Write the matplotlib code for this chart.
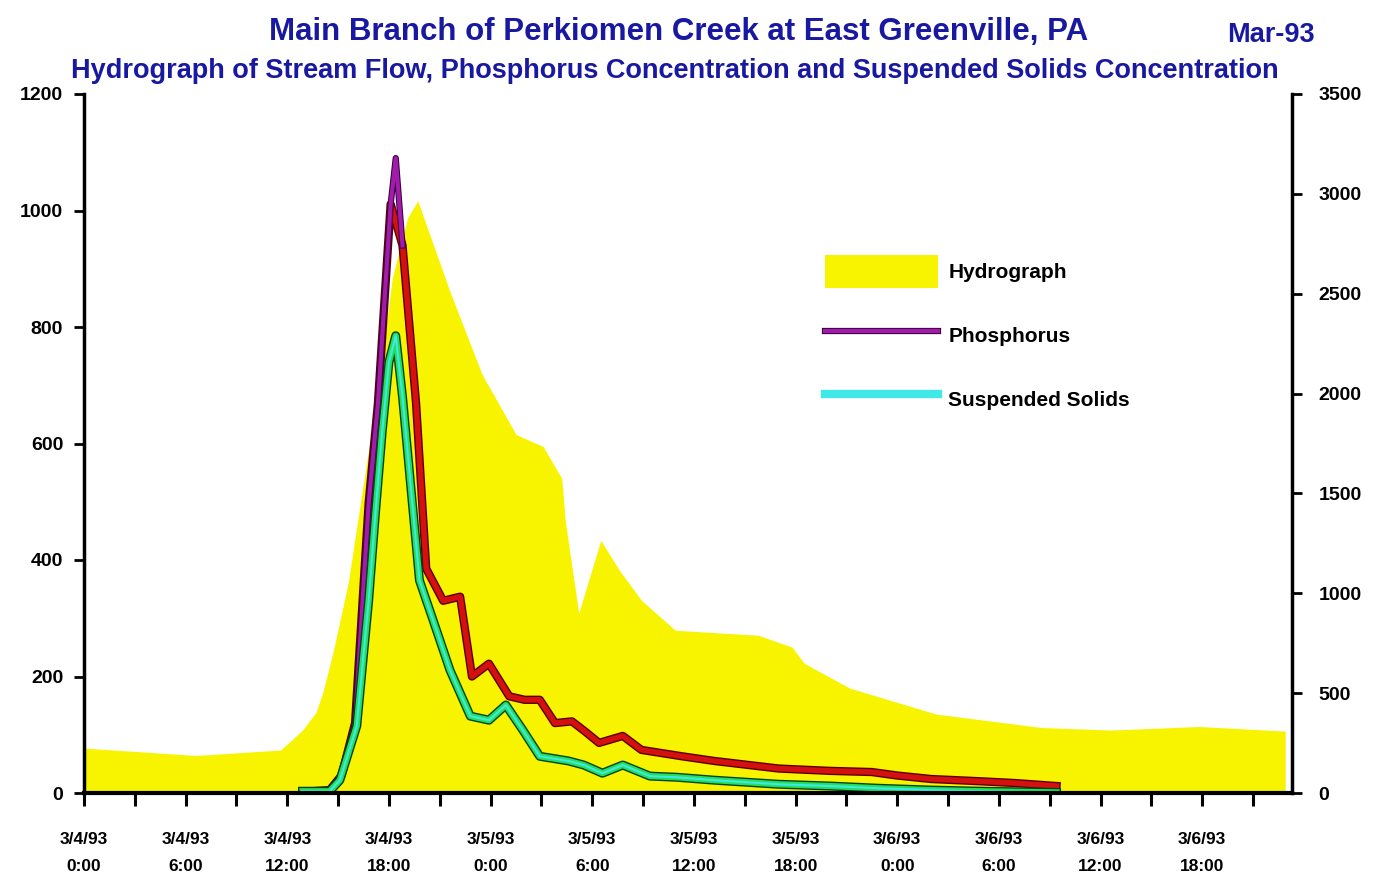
import matplotlib
matplotlib.use("Agg")
import matplotlib.pyplot as plt
import matplotlib.patheffects as pe
from matplotlib.patches import Patch
from matplotlib.lines import Line2D
import numpy as np

plt.rcParams['font.family'] = ['Liberation Sans', 'DejaVu Sans']
plt.rcParams['font.weight'] = 'bold'

# ---- data (hours after 3/4/93 0:00) ----
hydro_hours = [0.0, 6.6, 11.6, 12.9, 13.7, 14.1, 14.7, 15.6, 16.5, 17.4, 18.2, 19.1, 19.7,
               21.6, 23.5, 25.5, 27.1, 28.2, 28.4, 29.2, 30.5, 31.6, 32.9, 34.9, 37.8,
               39.8, 41.8, 42.5, 45.2, 50.3, 56.5, 60.6, 65.8, 70.9]
hydro_flow = [225, 188, 215, 315, 405, 505, 705, 1055, 1555, 2055, 2580, 2880, 2965,
              2510, 2095, 1795, 1735, 1575, 1365, 900, 1265, 1115, 965, 815, 800,
              790, 730, 650, 525, 395, 328, 315, 333, 310]

phos_hours = [12.9, 14.5, 15.2, 16.0, 16.8, 17.35, 18.1, 18.4, 18.8, 19.6, 20.2, 21.2, 22.2,
              22.9, 23.9, 25.1, 26.0, 26.9, 27.8, 28.8, 29.6, 30.4, 31.8, 32.9, 35.3,
              37.2, 41.0, 44.0, 46.5, 48.0, 50.0, 53.0, 55.0, 57.4]
phos_conc = [2, 5, 30, 120, 497, 669, 1011, 1090, 940, 669, 385, 330, 337,
             200, 222, 166, 160, 160, 120, 123, 105, 86, 98, 74, 63,
             55, 42, 38, 36, 30, 24, 20, 17, 12]

ss_hours = [12.9, 14.5, 15.1, 16.1, 16.8, 17.2, 17.6, 18.0, 18.4, 18.8, 19.8, 20.6, 21.6,
            22.8, 23.9, 24.9, 25.9, 26.9, 28.6, 29.5, 30.6, 31.8, 33.4, 35.0, 37.2,
            41.0, 44.0, 47.0, 50.0, 53.0, 57.4]
ss_conc = [3, 3, 22, 115, 330, 480, 620, 740, 785, 680, 365, 297, 211,
           132, 125, 151, 108, 63, 55, 48, 34, 48, 29, 27, 22,
           15, 12, 8, 5, 3, 1]

tick_hours = list(range(0, 67, 6))
tick_labels = ["3/4/93\n0:00", "3/4/93\n6:00", "3/4/93\n12:00", "3/4/93\n18:00",
               "3/5/93\n0:00", "3/5/93\n6:00", "3/5/93\n12:00", "3/5/93\n18:00",
               "3/6/93\n0:00", "3/6/93\n6:00", "3/6/93\n12:00", "3/6/93\n18:00"]

navy = '#1818a0'
yellow = '#f8f400'

fig = plt.figure(figsize=(13.74, 8.82), dpi=100)
ax = fig.add_axes([84 / 1374, 89 / 882, 1208 / 1374, 699 / 882])
ax2 = ax.twinx()

# hydrograph on the right axis, behind the concentration lines
ax2.fill_between(hydro_hours, hydro_flow, 0, color=yellow, lw=0)
ax2.set_ylim(0, 3500)
ax2.set_yticks(range(0, 3501, 500))
ax.set_zorder(ax2.get_zorder() + 1)
ax.patch.set_visible(False)

peak = int(np.argmax(phos_conc))
red_h = phos_hours[:peak] + phos_hours[peak + 1:]
red_c = phos_conc[:peak] + phos_conc[peak + 1:]
ax.plot(red_h, red_c, color='#d41010', lw=4,
        path_effects=[pe.Stroke(linewidth=6, foreground='#5a0000'), pe.Normal()])
ax.plot(phos_hours[:peak + 2], phos_conc[:peak + 2], color='#a21caa', lw=3,
        path_effects=[pe.Stroke(linewidth=4.5, foreground='#3a0040'), pe.Normal()])
ax.plot(ss_hours, ss_conc, color='#22e05a', lw=4.5,
        path_effects=[pe.Stroke(linewidth=6.5, foreground='#0a4020'), pe.Normal()])
ax.plot(ss_hours, ss_conc, color='#40e8e8', lw=1.5)

ax.set_xlim(0, 71.3)
ax.set_ylim(0, 1200)
ax.set_yticks(range(0, 1201, 200))
ax.set_xticks(tick_hours)
ax.set_xticklabels(tick_labels, linespacing=2.05)
ax.set_xticks(range(3, 70, 6), minor=True)

for a in (ax, ax2):
    a.spines['top'].set_visible(False)
ax.spines['right'].set_visible(False)
ax.spines['left'].set_linewidth(2.5)
ax.spines['bottom'].set_linewidth(3)
ax2.spines['left'].set_visible(False)
ax2.spines['bottom'].set_visible(False)
ax2.spines['right'].set_linewidth(2.5)

ax.tick_params(axis='x', which='both', direction='out', length=9, width=2.2, pad=19, labelsize=12.5)
ax.tick_params(axis='y', direction='out', length=7, width=2, pad=8, labelsize=14)
ax2.tick_params(axis='y', direction='out', length=7, width=2, pad=12, labelsize=14)

handles = [Patch(facecolor=yellow, edgecolor='none'),
           Line2D([], [], color='#a21caa', lw=3,
                  path_effects=[pe.Stroke(linewidth=4.5, foreground='#3a0040'), pe.Normal()]),
           Line2D([], [], color='#40e8e8', lw=6)]
ax.legend(handles, ['Hydrograph', 'Phosphorus', 'Suspended Solids'],
          loc='upper left', bbox_to_anchor=(817 / 1374, 1 - 247 / 882),
          bbox_transform=fig.transFigure, frameon=False, fontsize=15, borderaxespad=0,
          handlelength=5.4, handleheight=2.0, handletextpad=0.5, labelspacing=1.52)

fig.text(0.494, 0.964, "Main Branch of Perkiomen Creek at East Greenville, PA",
         ha='center', va='center', fontsize=22.5, color=navy, fontweight='bold')
fig.text(0.925, 0.960, "Mar-93", ha='center', va='center', fontsize=19.5, color=navy,
         fontweight='bold')
fig.text(0.491, 0.920,
         "Hydrograph of Stream Flow, Phosphorus Concentration and Suspended Solids Concentration",
         ha='center', va='center', fontsize=19.5, color=navy, fontweight='bold')

fig.savefig("out.png", dpi=100)
